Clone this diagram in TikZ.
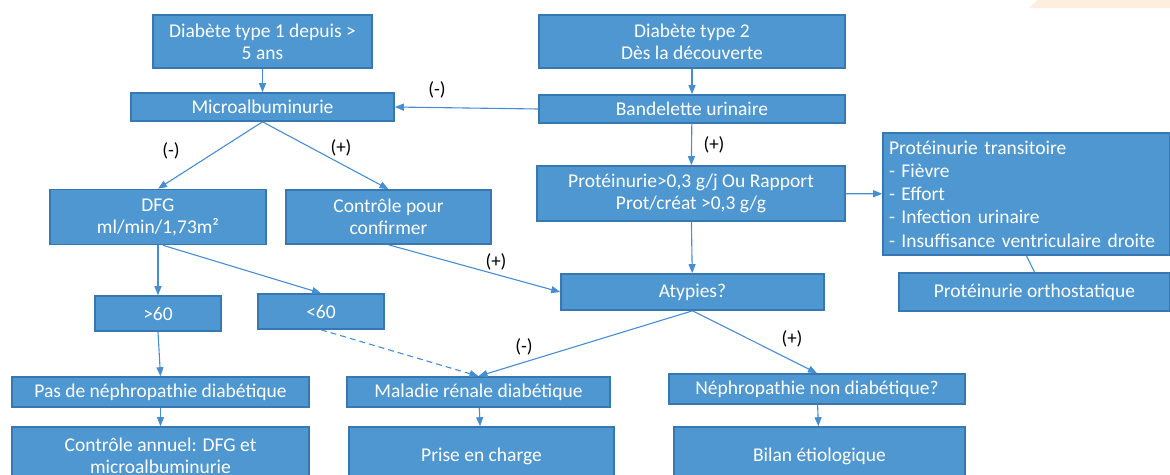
\documentclass[tikz,border=0pt]{standalone}
\usepackage{fontspec}
\setmainfont{Carlito}
\usetikzlibrary{arrows.meta, positioning}

\definecolor{boxfill}{RGB}{79,151,209}
\definecolor{boxline}{RGB}{56,120,178}
\definecolor{fleche}{RGB}{70,142,212}
\definecolor{peche}{RGB}{253,238,224}

\tikzset{
  boite/.style={draw=boxline, line width=1.6pt, fill=boxfill, text=white,
    inner sep=0pt, align=center, font=\fontsize{19.5}{22}\selectfont},
  fl/.style={draw=fleche, line width=1.1pt, -{Triangle[length=9pt,width=7pt]}},
  signe/.style={font=\fontsize{19}{22}\selectfont, text=black}
}

\begin{document}
\begin{tikzpicture}[x=1pt, y=-1pt]
			\useasboundingbox (0,0) rectangle (1170,474);
			\clip (0,0) rectangle (1170,474);
			\fill[peche] (1029,8) -- (1037,0) -- (1170,0) -- (1170,8) -- cycle;
			
			% type 1
			\node[boite, minimum width=219pt, minimum height=53pt] (t1) at (262.5,41.5) {Diabète type 1 depuis >\\5 ans};
			\node[boite, minimum width=263pt, minimum height=28pt] (micro) at (262.5,107) {Microalbuminurie};
			\node[boite, minimum width=216pt, minimum height=55pt] (dfg) at (158,217) {DFG\\ml/min/1,73m²};
			\node[boite, minimum width=205pt, minimum height=54pt] (ctrl) at (388.5,217) {Contrôle pour\\confirmer};
			\node[boite, minimum width=126pt, minimum height=35pt] (sup) at (158,313.5) {>60};
			\node[boite, minimum width=126pt, minimum height=35pt] (inf) at (321,311.5) {<60};
			\node[boite, minimum width=297pt, minimum height=30pt] (pasnd) at (160.5,392) {Pas de néphropathie diabétique};
			\node[boite, minimum width=297pt, minimum height=58pt] (annuel) at (160.5,456) {Contrôle annuel: DFG et\\microalbuminurie};
			
			% type 2
			\node[boite, minimum width=306pt, minimum height=53pt] (t2) at (692,41.5) {Diabète type 2\\Dès la découverte};
			\node[boite, minimum width=306pt, minimum height=28pt] (bu) at (692,109) {Bandelette urinaire};
			\node[boite, minimum width=308pt, minimum height=55pt] (prot) at (691,193.5) {Protéinurie>0,3 g/j Ou Rapport\\Prot/créat >0,3 g/g};
			\node[boite, minimum width=287pt, minimum height=122pt, align=left, text width=275pt,
			      font=\fontsize{19.5}{23.3}\selectfont] (trans) at (1026.5,194) {Protéinurie transitoire\\- Fièvre\\- Effort\\- Infection urinaire\\- Insuffisance ventriculaire droite};
			\node[boite, minimum width=271pt, minimum height=38pt] (ortho) at (1034.5,292) {Protéinurie orthostatique};
			\node[boite, minimum width=263pt, minimum height=36pt] (atyp) at (692.5,292) {Atypies?};
			\node[boite, minimum width=263pt, minimum height=30pt] (mrd) at (478.5,392) {Maladie rénale diabétique};
			\node[boite, minimum width=265pt, minimum height=58pt] (prise) at (481.5,456) {Prise en charge};
			\node[boite, minimum width=296pt, minimum height=30pt] (nnd) at (817,389) {Néphropathie non diabétique?};
			\node[boite, minimum width=291pt, minimum height=58pt] (bilan) at (819.5,456) {Bilan étiologique};
			
			% liaisons
			\draw[fl] (t1) -- (micro);
			\draw[fl] (t2) -- (bu);
			\draw[fl] (bu.west) -- (micro.east);
			\draw[fl] (bu) -- (prot);
			\draw[fl] (prot) -- (trans);
			\draw[draw=fleche, line width=1.1pt] (trans.south) -- (ortho.north);
			\draw[fl] (prot) -- (atyp);
			\draw[fl] (micro.south) -- (dfg.north);
			\draw[fl] (micro.south) -- (ctrl.north);
			\draw[fl] (dfg.south) -- (sup.north);
			\draw[fl] ([xshift=5pt]dfg.south) -- (inf.north);
			\draw[fl] (sup.south) -- (pasnd.north);
			\draw[fl, dash pattern=on 6pt off 4pt] (inf.south) -- (mrd.north);
			\draw[fl] (ctrl.south) -- (atyp.west);
			\draw[fl] (atyp.south) -- (mrd.north);
			\draw[fl] (atyp.south) -- (nnd.north);
			\draw[fl] (pasnd) -- (annuel);
			\draw[fl] (mrd) -- (prise);
			\draw[fl] (nnd) -- (bilan);
			
			% signes
			\node[signe] (s1) at (437,90) {(-)};
			\node[signe] (s2) at (714,145) {(+)};
			\node[signe] (s3) at (171,151) {(-)};
			\node[signe] (s4) at (341,148) {(+)};
			\node[signe] (s5) at (496,262) {(+)};
			\node[signe] (s6) at (524,347) {(-)};
			\node[signe] (s7) at (792,339) {(+)};
\end{tikzpicture}
\end{document}
